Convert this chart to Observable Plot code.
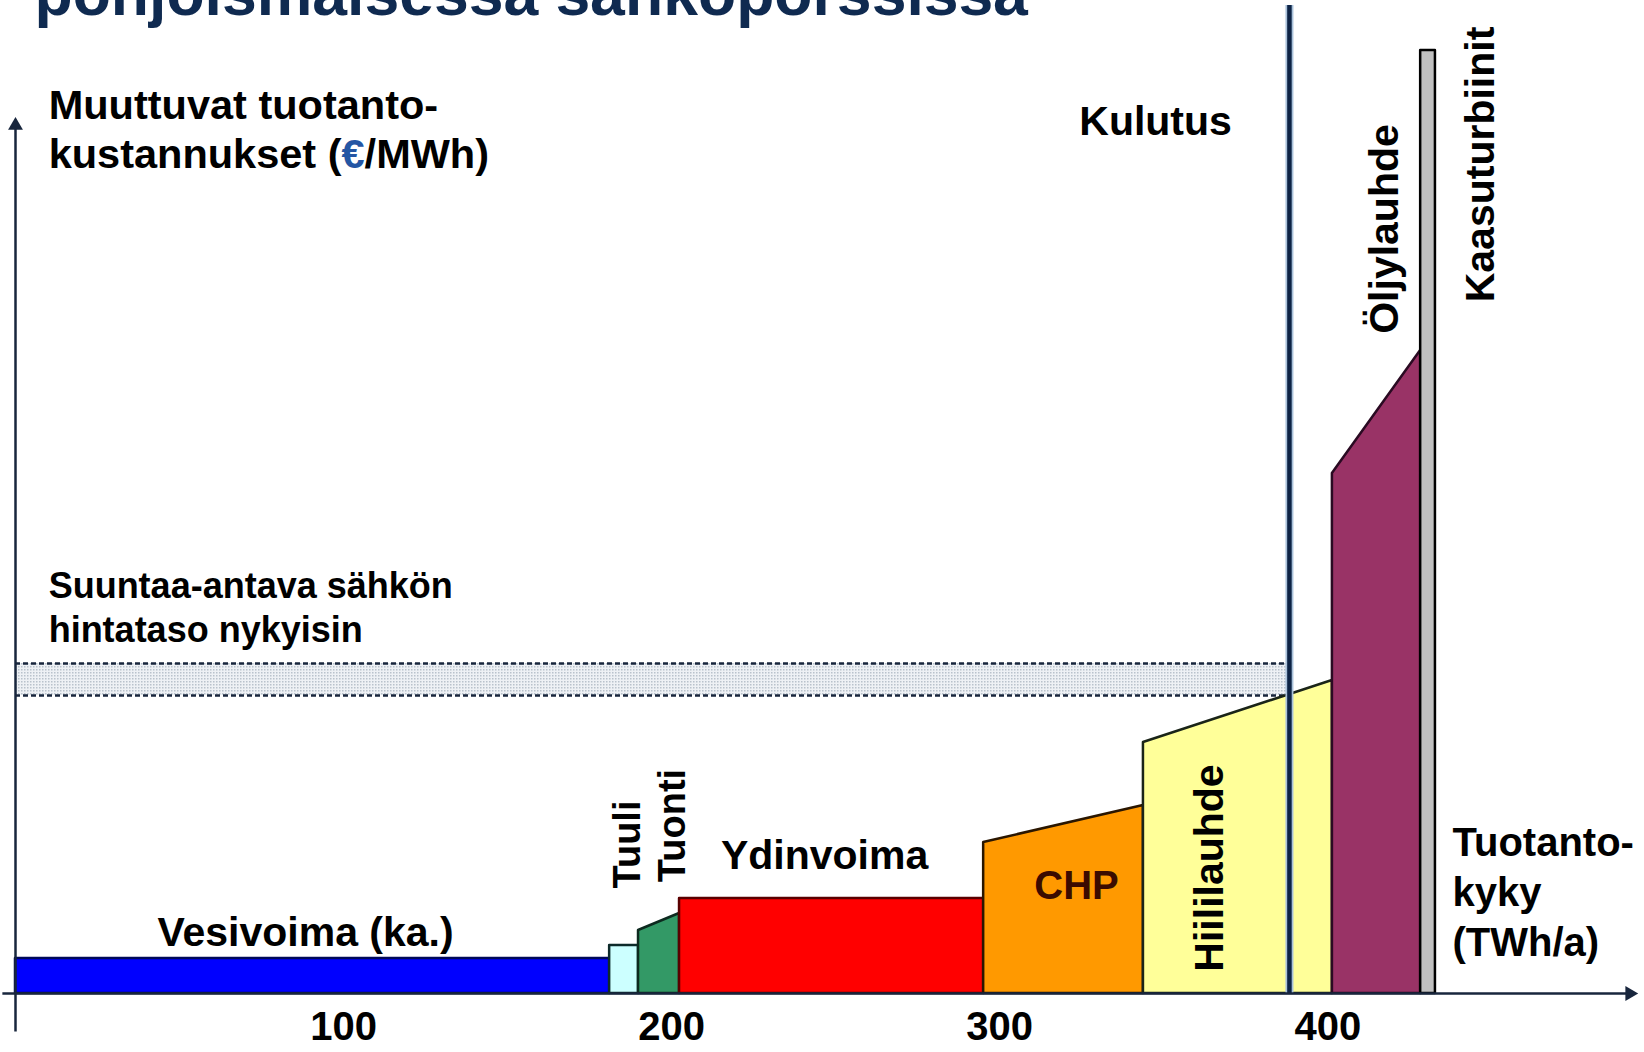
<!DOCTYPE html>
<html>
<head>
<meta charset="utf-8">
<script src="https://cdn.jsdelivr.net/npm/d3@7"></script>
<script src="https://cdn.jsdelivr.net/npm/@observablehq/plot@0.6"></script>
<style>
  html, body { margin: 0; padding: 0; background: #ffffff; }
  #chart svg { display: block; }
</style>
</head>
<body>
<div id="chart"></div>
<script>
// ---- Data ----
const sources     = ["Vesivoima (ka.)", "Tuuli", "Tuonti", "Ydinvoima", "CHP", "Hiililauhde", "Öljylauhde", "Kaasuturbiinit"];
const capacity    = [181.1, 8.8, 12.5, 92.7, 48.7, 57.6, 26.9, 4.5];   // TWh/a
const costStart   = [3.5, 4.8, 6.3, 9.5, 15.1, 25.1, 52.0, 94.3];      // €/MWh at segment start
const costEnd     = [3.5, 4.8, 8.0, 9.5, 18.8, 31.3, 64.3, 94.3];      // €/MWh at segment end
const consumption = 388.3;                                             // TWh/a ("Kulutus")
const priceBand   = [29.8, 33.0];                                      // €/MWh
const xTicks      = [100, 200, 300, 400];

// ---- Styles ----
const fillColors   = ["#0000ff", "#ccffff", "#339966", "#ff0000", "#ff9900", "#ffff99", "#993366", "#c0c0c0"];
const strokeColors = ["#00085a", "#0d2a2a", "#0d2a1f", "#5a0000", "#2a1600", "#1a2418", "#2a0a22", "#000000"];
const ink = "#18263d";

// ---- Derived geometry (from the data) ----
let cum = 0;
const segments = sources.map((s, i) => {
  const x0 = cum; cum += capacity[i];
  return {s, i, pts: [{x: x0, y: costStart[i]}, {x: cum, y: costEnd[i]}]};
});

// annotation anchors in data units
const flatLabels = [
  {text: "Vesivoima (ka.)", x: 88.4, y: 6.1},
  {text: "Ydinvoima", x: 246.6, y: 13.8},
  {text: "Kulutus", x: 347.5, y: 87.2}
];
const rotLabels = [
  {text: "Tuuli", x: 186.5, y: 14.9, size: 38},
  {text: "Tuonti", x: 200.3, y: 16.8, size: 38},
  {text: "Hiililauhde", x: 363.9, y: 12.55, size: 41},
  {text: "Öljylauhde", x: 417.3, y: 76.45, size: 41},
  {text: "Kaasuturbiinit", x: 446.8, y: 82.9, size: 41}
];
const xAxisLine = [{x1: -4, x2: 492, y1: 0, y2: 0}];
const yAxisLine = [{x1: 0, x2: 0, y1: -3.8, y2: 86.8}];

const chart = Plot.plot({
  width: 1644,
  height: 1052,
  marginLeft: 15,
  marginRight: 5,
  marginTop: 0,
  marginBottom: 59,
  x: {domain: [0, 495]},
  y: {domain: [0, 99.3], axis: null},
  style: {fontFamily: "'Liberation Sans', Arial, sans-serif", fontSize: "40px", fontWeight: "bold", background: "#ffffff", color: "#000000", overflow: "visible"},
  marks: [
    // price band
    Plot.rect([{x1: 0, x2: consumption, y1: priceBand[0], y2: priceBand[1]}], {x1: "x1", x2: "x2", y1: "y1", y2: "y2", fill: "url(#dots)"}),
    Plot.ruleY(priceBand, {x1: 0, x2: consumption, stroke: ink, strokeWidth: 2.5, strokeDasharray: "5,3"}),
    // supply curve segments
    ...segments.map(d => Plot.areaY(d.pts, {x: "x", y: "y", fill: fillColors[d.i], stroke: strokeColors[d.i], strokeWidth: 2.5})),
    // consumption line
    Plot.ruleX([consumption], {y1: 0, y2: 98.8, stroke: "#a9c1da", strokeWidth: 8}),
    Plot.ruleX([consumption], {y1: 0, y2: 98.8, stroke: "#0d2345", strokeWidth: 4.5}),
    // axes with filled arrow heads
    Plot.link(xAxisLine, {x1: "x1", y1: "y1", x2: "x2", y2: "y2", stroke: ink, strokeWidth: 2.5}),
    Plot.link(yAxisLine, {x1: "x1", y1: "y1", x2: "x2", y2: "y2", stroke: ink, strokeWidth: 2.5}),
    Plot.dot(xAxisLine, {x: "x2", y: "y2", symbol: "triangle", r: 5.5, rotate: 90, fill: ink, stroke: null}),
    Plot.dot(yAxisLine, {x: "x2", y: "y2", symbol: "triangle", r: 5.5, fill: ink, stroke: null}),
    Plot.axisX(xTicks, {tickSize: 0, tickPadding: 18, fontSize: 40, fontWeight: "bold", label: null, fill: "#000"}),
    // labels
    Plot.text(flatLabels, {x: "x", y: "y", text: "text", fontSize: 41, fill: "#000", lineAnchor: "middle"}),
    Plot.text([{x: 323.4, y: 10.7}], {x: "x", y: "y", text: () => "CHP", fontSize: 40, fill: "#3b0b00", lineAnchor: "middle"}),
    Plot.text(rotLabels, {x: "x", y: "y", text: "text", rotate: -90, fontSize: d => d.size, fill: "#000", lineAnchor: "middle"}),
    Plot.text([{x: 10.1, y: 86.56}], {x: "x", y: "y", text: () => "Muuttuvat tuotanto-\nkustannukset (€/MWh)", textAnchor: "start", lineAnchor: "middle", fontSize: 41.5, lineHeight: 1.19, fill: "#000"}),
    Plot.text([{x: 10.1, y: 38.8}], {x: "x", y: "y", text: () => "Suuntaa-antava sähkön\nhintataso nykyisin", textAnchor: "start", lineAnchor: "middle", fontSize: 36, lineHeight: 1.22, fill: "#000"}),
    Plot.text([{x: 438.0, y: 10.4}], {x: "x", y: "y", text: () => "Tuotanto-\nkyky\n(TWh/a)", textAnchor: "start", lineAnchor: "middle", fontSize: 40, lineHeight: 1.25, fill: "#000"}),
    // title (partly cut off at the top, as in the reference)
    Plot.text(["pohjoismaisessa sähköpörssissä"], {frameAnchor: "top-left", dx: 19, dy: 14, textAnchor: "start", lineAnchor: "bottom", fontSize: 62.5, fill: "#0f2a50"})
  ]
});

// dotted fill pattern for the price band
const defs = d3.select(chart).insert("defs", ":first-child");
const pat = defs.append("pattern").attr("id", "dots").attr("width", 3).attr("height", 3).attr("patternUnits", "userSpaceOnUse");
pat.append("rect").attr("width", 3).attr("height", 3).attr("fill", "#eef1f5");
pat.append("rect").attr("width", 1.5).attr("height", 1.5).attr("fill", "#b9c2cc");

// colour the euro sign blue
d3.select(chart).selectAll("tspan").each(function () {
  const t = this.textContent;
  if (t.includes("€")) {
    const [a, b] = t.split("€");
    const sel = d3.select(this);
    sel.text(a);
    sel.append("tspan").attr("fill", "#2456a4").text("€");
    sel.append("tspan").text(b);
  }
});

document.getElementById("chart").appendChild(chart);
</script>
</body>
</html>
